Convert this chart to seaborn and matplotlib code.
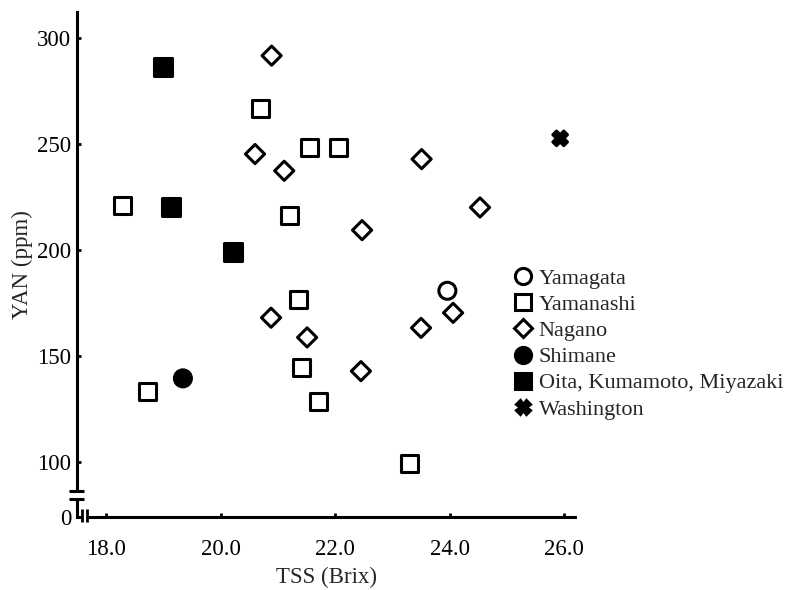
"""Scatter of YAN against TSS by growing region, broken axes at the origin."""

import matplotlib
matplotlib.use("Agg")
import matplotlib.pyplot as plt
import numpy as np
import pandas as pd
import seaborn as sns
from matplotlib.patches import Rectangle


regions = [
    "Yamagata",
    "Yamanashi",
    "Nagano",
    "Shimane",
    "Oita, Kumamoto, Miyazaki",
    "Washington",
]

yamagata_tss = [23.96]
yamagata_yan = [180.8]

yamanashi_tss = [18.29, 20.70, 21.55, 22.05, 21.20, 21.36, 21.41, 21.71, 18.73, 23.30]
yamanashi_yan = [220.9, 266.8, 248.4, 248.4, 216.5, 176.9, 144.7, 128.4, 133.2, 99.4]

nagano_tss = [20.89, 20.60, 21.11, 22.47, 23.51, 24.53, 24.06, 23.50, 20.88, 21.51, 22.45]
nagano_yan = [291.7, 245.3, 237.4, 209.4, 242.9, 220.1, 170.4, 163.3, 168.1, 158.8, 142.9]

shimane_tss = [19.34]
shimane_yan = [139.5]

kyushu_tss = [18.99, 19.13, 20.21]
kyushu_yan = [286.2, 220.4, 199.2]

washington_tss = [25.93]
washington_yan = [252.7]

x_ticks = [18.0, 20.0, 22.0, 24.0, 26.0]
y_ticks = [100, 150, 200, 250, 300]

frames = []
for region, tss, yan in zip(
    regions,
    [yamagata_tss, yamanashi_tss, nagano_tss, shimane_tss, kyushu_tss, washington_tss],
    [yamagata_yan, yamanashi_yan, nagano_yan, shimane_yan, kyushu_yan, washington_yan],
):
    frames.append(pd.DataFrame({"region": region, "TSS": tss, "YAN": yan}))
data = pd.concat(frames, ignore_index=True)

markers = {
    "Yamagata": "o",
    "Yamanashi": "s",
    "Nagano": "D",
    "Shimane": "o",
    "Oita, Kumamoto, Miyazaki": "s",
    "Washington": "X",
}
faces = {
    "Yamagata": "white",
    "Yamanashi": "white",
    "Nagano": "white",
    "Shimane": "black",
    "Oita, Kumamoto, Miyazaki": "black",
    "Washington": "black",
}
sizes = {
    "Yamagata": 150,
    "Yamanashi": 150,
    "Nagano": 95,
    "Shimane": 150,
    "Oita, Kumamoto, Miyazaki": 165,
    "Washington": 110,
}

sns.set_style("ticks")
plt.rcParams["font.family"] = ["Liberation Serif", "DejaVu Serif"]

fig = plt.figure(figsize=(8.02, 5.90), dpi=100)
ax = fig.add_axes([0.096, 0.1237, 0.621, 0.856])

sns.scatterplot(
    data=data,
    x="TSS",
    y="YAN",
    hue="region",
    style="region",
    size="region",
    hue_order=regions,
    style_order=regions,
    size_order=regions,
    palette=faces,
    markers=markers,
    sizes=sizes,
    edgecolor="black",
    linewidth=2.2,
    legend="full",
    ax=ax,
    zorder=4,
)

# axis bottom stands for zero behind a break
y_zero = 74.1
ax.set_xlim(17.49, 26.19)
ax.set_ylim(y_zero, 312.3)
ax.set_xticks(x_ticks)
ax.set_xticklabels([f"{t:.1f}" for t in x_ticks])
ax.set_yticks([y_zero] + y_ticks)
ax.set_yticklabels(["0"] + [str(t) for t in y_ticks])

ax.tick_params(axis="both", direction="in", length=3, width=2, colors="black",
               labelsize=16.5)
ax.tick_params(axis="x", pad=15.5)
ax.tick_params(axis="y", pad=4)
ax.yaxis.get_major_ticks()[0].tick1line.set_visible(False)

for side in ["top", "right"]:
    ax.spines[side].set_visible(False)
for side in ["left", "bottom"]:
    ax.spines[side].set_linewidth(2.2)
    ax.spines[side].set_color("black")

ax.set_xlabel("TSS (Brix)", fontsize=16.5, labelpad=5)
ax.set_ylabel("YAN (ppm)", fontsize=16.5, labelpad=3)

# break marks
ax.add_patch(Rectangle((17.40, 82.6), 0.18, 3.8, facecolor="white",
                       edgecolor="none", clip_on=False, zorder=3))
ax.add_patch(Rectangle((17.588, 70.0), 0.074, 9.0, facecolor="white",
                       edgecolor="none", clip_on=False, zorder=3))
for yb in [86.5, 82.5]:
    ax.plot([17.35, 17.61], [yb, yb], color="black", lw=2.2,
            clip_on=False, zorder=5, solid_capstyle="butt")
for xb in [17.58, 17.67]:
    ax.plot([xb, xb], [71.8, 77.8], color="black", lw=2.0,
            clip_on=False, zorder=5, solid_capstyle="butt")

handles, labels = ax.get_legend_handles_labels()
ax.get_legend().remove()
fig.legend(
    handles,
    labels,
    loc="upper left",
    bbox_to_anchor=(0.641, 0.545),
    frameon=False,
    fontsize=16,
    handlelength=0.8,
    handletextpad=0.3,
    labelspacing=0.25,
    borderpad=0,
    borderaxespad=0,
    markerscale=0.95,
)

fig.savefig("out.png", dpi=100)
